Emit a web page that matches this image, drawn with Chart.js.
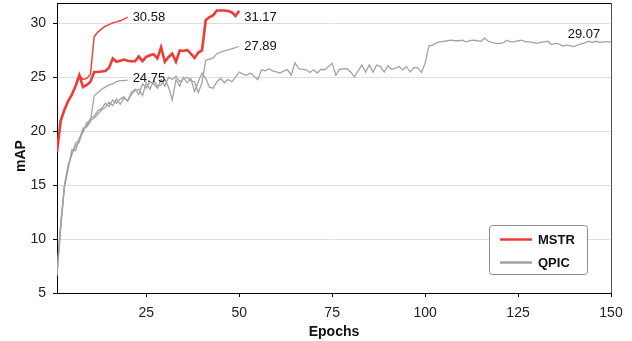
<!DOCTYPE html>
<html><head><meta charset="utf-8">
<script src="https://cdn.jsdelivr.net/npm/chart.js@4.4.0/dist/chart.umd.min.js"></script>
<style>html,body{margin:0;padding:0;background:#fff}</style>
</head><body>
<canvas id="c" width="632" height="341" style="width:632px;height:341px;display:block"></canvas>
<script>
const xTicks = [25, 50, 75, 100, 125, 150];
const yTicks = [5, 10, 15, 20, 25, 30];
const seriesNames = ['MSTR', 'QPIC'];

const mstr20 = [18.1,21.0,22.0,22.8,23.4,24.2,25.2,24.8,24.9,25.3,28.8,29.2,29.5,29.75,29.9,30.05,30.15,30.25,30.4,30.58];
const mstr50 = [18.1,21.0,22.0,22.8,23.4,24.2,25.2,24.1,24.3,24.6,25.5,25.5,25.55,25.6,25.9,26.75,26.45,26.55,26.65,26.55,
  26.5,26.5,26.95,26.5,26.9,27.05,27.15,26.75,27.8,26.45,26.9,27.2,26.45,27.5,27.45,27.55,27.2,26.8,27.3,27.5,
  30.3,30.6,30.75,31.2,31.2,31.2,31.15,31.05,30.7,31.17];
const qpic20 = [6.8,11.3,14.9,16.9,17.8,18.9,19.2,20.3,20.4,20.9,23.3,23.6,23.9,24.1,24.3,24.4,24.6,24.7,24.7,24.75];
const qpic50 = [6.9,11.5,15.0,16.7,18.0,18.6,19.0,20.1,20.5,21.2,21.4,21.9,22.1,22.6,22.3,22.9,22.6,23.0,23.2,22.8,
  23.6,23.9,23.4,24.4,24.0,24.6,24.4,24.0,24.8,24.2,25.0,24.8,25.1,24.6,24.9,25.0,24.7,24.6,23.6,24.5,
  26.6,26.7,26.8,27.2,27.35,27.45,27.55,27.65,27.75,27.89];
const qpic150 = [6.6,11.0,14.8,16.5,18.3,18.2,19.4,19.9,20.8,21.0,21.2,21.6,22.0,22.2,22.7,22.4,23.0,22.5,23.1,22.8,
  23.4,23.8,23.9,23.3,24.5,23.9,24.7,24.2,24.3,24.8,24.1,22.9,24.8,24.2,25.0,24.5,24.9,23.7,24.6,25.4,
  24.9,24.1,24.0,24.6,24.9,24.5,24.8,24.6,25.0,25.5,
  25.3,25.2,25.4,25.1,24.8,25.7,25.6,25.8,25.6,25.5,25.4,25.6,25.7,25.2,26.35,25.8,25.75,25.7,25.45,25.7,
  25.4,25.75,25.7,26.0,26.3,25.2,25.75,25.8,25.8,25.5,25.05,25.6,26.15,25.5,26.15,25.5,26.15,26.0,25.5,26.1,
  25.75,25.85,26.0,25.7,26.0,25.5,25.9,25.9,25.45,26.3,
  27.9,28.0,28.2,28.3,28.35,28.4,28.45,28.4,28.4,28.45,28.3,28.4,28.45,28.4,28.35,28.65,28.35,28.25,28.15,28.15,
  28.2,28.45,28.3,28.3,28.4,28.45,28.3,28.3,28.25,28.15,28.25,28.3,28.35,28.05,28.15,28.1,27.9,28.0,27.95,27.85,
  28.0,28.1,28.2,28.35,28.25,28.35,28.25,28.3,28.3,28.3];

const endLabels = [
  {text: '30.58', x: 20, y: 30.58},
  {text: '31.17', x: 50, y: 30.6},
  {text: '27.89', x: 50, y: 27.9},
  {text: '24.75', x: 20, y: 24.93},
  {text: '29.07', x: 137, y: 29.0}
];

const RED = '#ef3b36', GRAY = '#a3a3a3';
const FONT = '"Liberation Sans", Arial, sans-serif';
const pts = arr => arr.map((v, i) => ({x: i + 1, y: v}));

const deco = {
  id: 'deco',
  afterDatasetsDraw(chart) {
    const {ctx, chartArea: a, scales: {x, y}} = chart;
    ctx.save();
    ctx.lineWidth = 1;
    ctx.strokeStyle = '#000';
    ctx.beginPath(); ctx.moveTo(a.left, a.top + 0.5); ctx.lineTo(a.right, a.top + 0.5); ctx.stroke();
    ctx.strokeStyle = '#555';
    ctx.beginPath(); ctx.moveTo(a.right + 0.5, a.top); ctx.lineTo(a.right + 0.5, a.bottom); ctx.stroke();
    ctx.fillStyle = '#111';
    ctx.font = '13px ' + FONT;
    ctx.textAlign = 'left'; ctx.textBaseline = 'middle';
    endLabels.forEach(l => ctx.fillText(l.text, x.getPixelForValue(l.x) + 5, y.getPixelForValue(l.y)));
    ctx.save();
    ctx.translate(21, (a.top + a.bottom) / 2 + 8);
    ctx.rotate(-Math.PI / 2);
    ctx.font = 'bold 14px ' + FONT;
    ctx.textAlign = 'center'; ctx.textBaseline = 'middle';
    ctx.fillStyle = '#111';
    ctx.fillText('mAP', 0, 0);
    ctx.restore();
    const L = a.right - 122, T = a.bottom - 68, W = 98, H = 49;
    ctx.fillStyle = '#fff';
    ctx.strokeStyle = '#8a8a8a';
    ctx.lineWidth = 1;
    ctx.beginPath();
    ctx.roundRect(L + 0.5, T + 0.5, W, H, 3);
    ctx.fill(); ctx.stroke();
    const cols = [RED, GRAY];
    seriesNames.forEach((n, i) => {
      const yy = T + 14.5 + i * 23;
      ctx.strokeStyle = cols[i]; ctx.lineWidth = 2.5;
      ctx.beginPath(); ctx.moveTo(L + 11, yy); ctx.lineTo(L + 43, yy); ctx.stroke();
      ctx.fillStyle = '#111';
      ctx.font = 'bold 13px ' + FONT;
      ctx.textAlign = 'left'; ctx.textBaseline = 'middle';
      ctx.fillText(n, L + 49, yy + 0.5);
    });
    ctx.restore();
  }
};

new Chart(document.getElementById('c'), {
  type: 'line',
  data: {
    datasets: [
      {label: 'MSTR', data: pts(mstr20), borderColor: RED, borderWidth: 1.4},
      {label: 'MSTR', data: pts(mstr50), borderColor: RED, borderWidth: 2.6},
      {label: 'QPIC', data: pts(qpic20), borderColor: GRAY, borderWidth: 1.3},
      {label: 'QPIC', data: pts(qpic50), borderColor: GRAY, borderWidth: 1.3},
      {label: 'QPIC', data: pts(qpic150), borderColor: GRAY, borderWidth: 1.3}
    ]
  },
  options: {
    responsive: false,
    animation: false,
    devicePixelRatio: 1,
    layout: {padding: {top: 3, right: 21, left: 0, bottom: 0}},
    elements: {point: {radius: 0}, line: {tension: 0, fill: false}},
    plugins: {legend: {display: false}, tooltip: {enabled: false}},
    scales: {
      x: {
        type: 'linear', min: 1, max: 150,
        afterBuildTicks: s => { s.ticks = xTicks.map(v => ({value: v})); },
        afterFit: s => { s.height = 48; s.paddingLeft = 0; s.paddingRight = 0; },
        grid: {drawOnChartArea: false, drawTicks: true, tickLength: 4, tickColor: '#000'},
        border: {color: '#000', width: 1},
        ticks: {color: '#222', font: {size: 14, family: FONT}, padding: 8, maxRotation: 0},
        title: {display: true, text: 'Epochs', color: '#111', font: {size: 14, weight: 'bold', family: FONT}, padding: {top: 0, bottom: 0}}
      },
      y: {
        min: 5, max: 31.9,
        afterBuildTicks: s => { s.ticks = yTicks.map(v => ({value: v})); },
        afterFit: s => { s.width = 57; s.paddingTop = 0; s.paddingBottom = 0; },
        grid: {color: '#dedede', lineWidth: 1, drawTicks: true, tickLength: 4, tickColor: '#000'},
        border: {color: '#000', width: 1},
        ticks: {color: '#222', font: {size: 14, family: FONT}, padding: 7}
      }
    }
  },
  plugins: [deco]
});
</script>
</body></html>
